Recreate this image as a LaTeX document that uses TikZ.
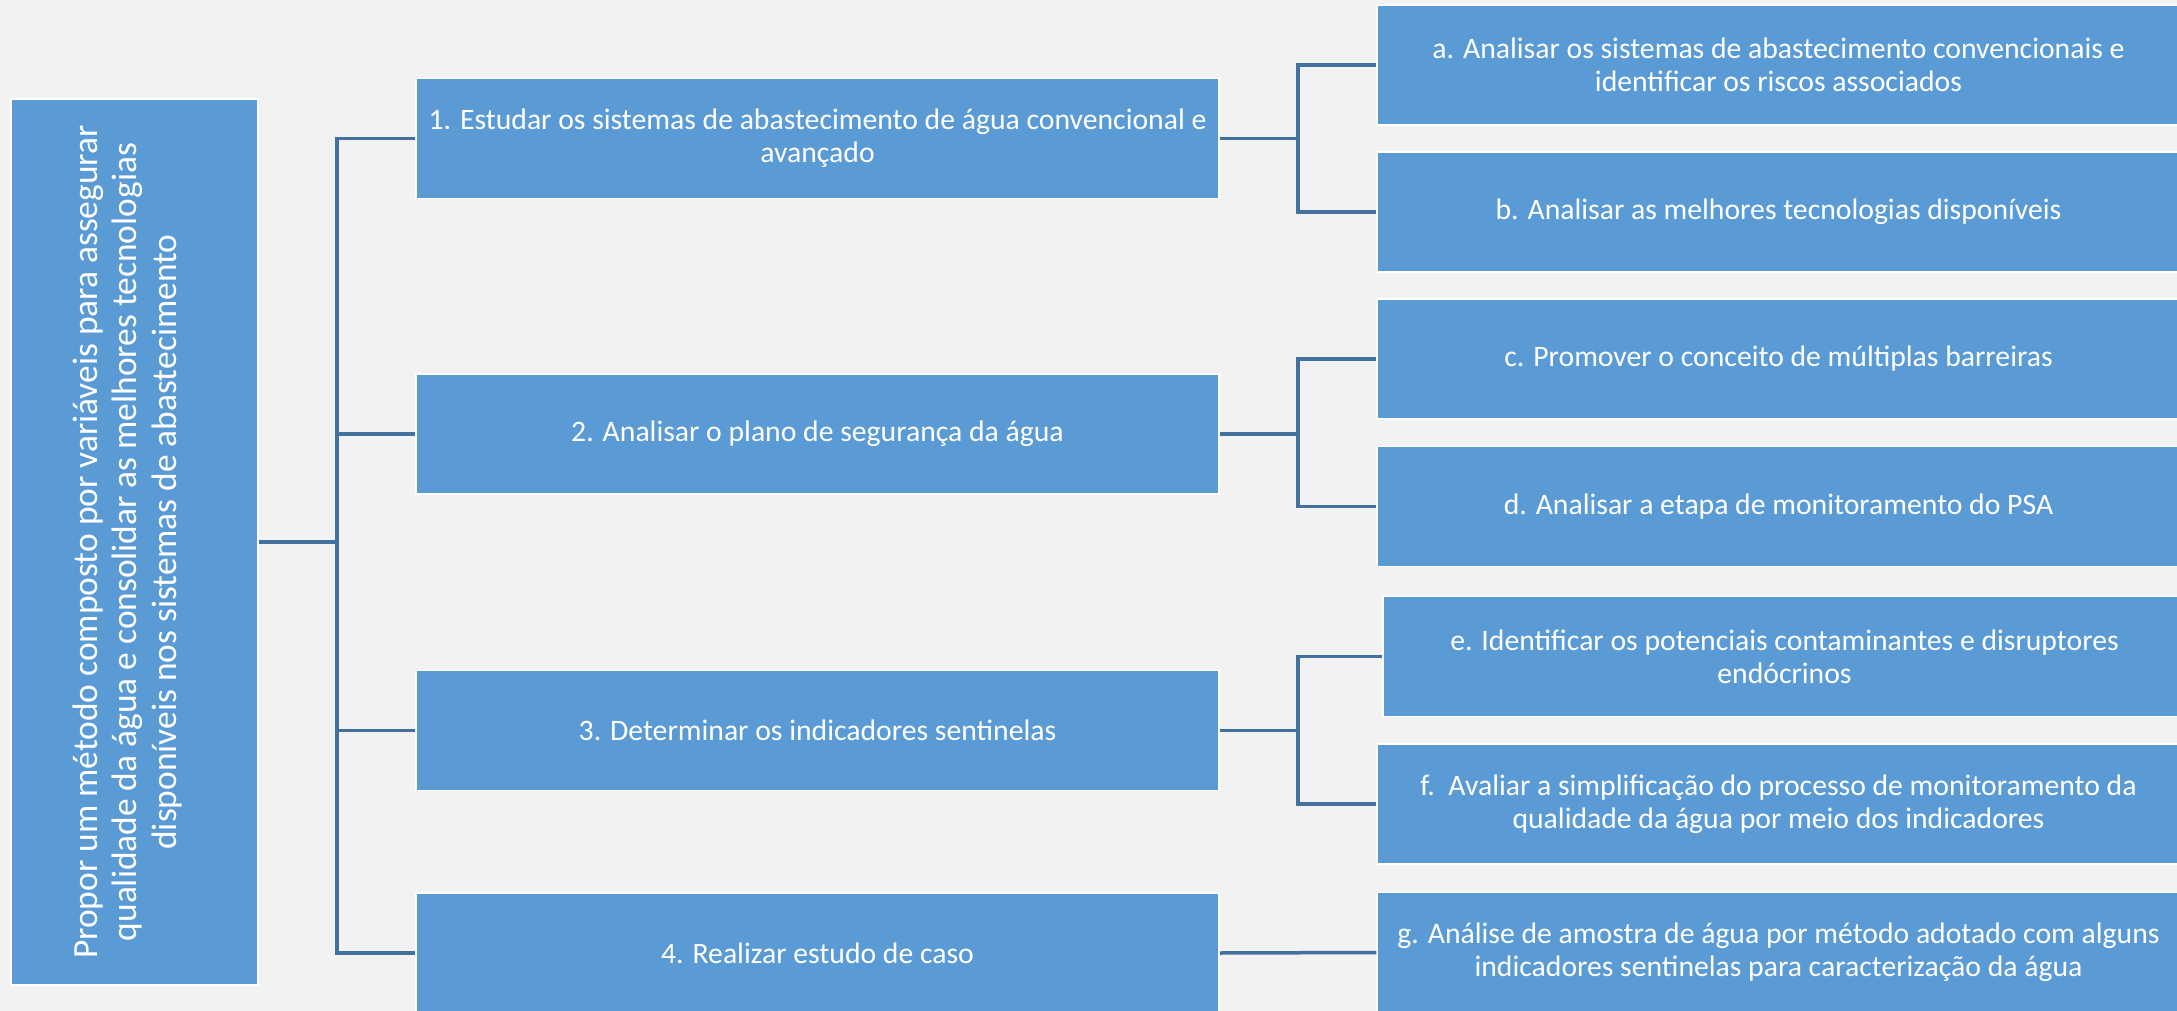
\documentclass[tikz,border=0pt]{standalone}
\usepackage{fontspec}
\setmainfont{Carlito}
\usepackage{tikz}

\definecolor{bggray}{HTML}{F2F2F2}
\definecolor{boxblue}{HTML}{5B9BD5}
\definecolor{linkblue}{HTML}{41719C}

\begin{document}
\begin{tikzpicture}[x=1pt,y=-1pt,
  box/.style={draw=white,line width=1.5pt,fill=boxblue,text=white,
    minimum width=803pt,minimum height=120pt,inner sep=0pt,align=center,
    font=\fontsize{29.7}{33}\selectfont},
  link/.style={draw=linkblue,line width=3.5pt}]

\useasboundingbox (0,0) rectangle (2177,1011);
\fill[bggray] (0,0) rectangle (2177,1011);

% goal
\node[box,rotate=90,minimum width=886pt,minimum height=247pt,
  font=\fontsize{35.4}{39.5}\selectfont] (goal) at (134.5,542)
  {\raisebox{0pt}[\height][\dimexpr\depth+11pt\relax]{\begin{tabular}{@{}c@{}}
   Propor um método composto por variáveis para assegurar\\
   qualidade da água e consolidar as melhores tecnologias\\
   disponíveis nos sistemas de abastecimento\end{tabular}}};

% steps
\node[box] (s1) at (817.5,138.5) {1. Estudar os sistemas de abastecimento de água convencional e\\avançado};
\node[box] (s2) at (817.5,434) {2. Analisar o plano de segurança da água};
\node[box] (s3) at (817.5,730.5) {3. Determinar os indicadores sentinelas};
\node[box] (s4) at (817.5,953) {4. Realizar estudo de caso};

% tasks
\node[box] (ta) at (1778.5,65) {a. Analisar os sistemas de abastecimento convencionais e\\identificar os riscos associados};
\node[box] (tb) at (1778.5,212) {b. Analisar as melhores tecnologias disponíveis};
\node[box] (tc) at (1778.5,359) {c. Promover o conceito de múltiplas barreiras};
\node[box] (td) at (1778.5,506.5) {d. Analisar a etapa de monitoramento do PSA};
\node[box] (te) at (1784.5,656.5) {e. Identificar os potenciais contaminantes e disruptores\\endócrinos};
\node[box] (tf) at (1778.5,804) {f.\ \ Avaliar a simplificação do processo de monitoramento da\\qualidade da água por meio dos indicadores};
\node[box] (tg) at (1778.5,952.5) {g. Análise de amostra de água por método adotado com alguns\\indicadores sentinelas para caracterização da água};

\coordinate (trunk) at (337,0);
\coordinate (fork) at (1298,0);

\draw[link] (goal.south) -- (goal.south -| trunk);
\draw[link] (s1.west) -- (s1.west -| trunk) -- (s4.west -| trunk) -- (s4.west);
\draw[link] (s2.west) -- (s2.west -| trunk);
\draw[link] (s3.west) -- (s3.west -| trunk);

\draw[link] (ta.west) -- (ta.west -| fork) -- (tb.west -| fork) -- (tb.west);
\draw[link] (s1.east) -- (s1.east -| fork);
\draw[link] (tc.west) -- (tc.west -| fork) -- (td.west -| fork) -- (td.west);
\draw[link] (s2.east) -- (s2.east -| fork);
\draw[link] (te.west) -- (te.west -| fork) -- (tf.west -| fork) -- (tf.west);
\draw[link] (s3.east) -- (s3.east -| fork);
\draw[link] (s4.east) -- (tg.west);
\end{tikzpicture}
\end{document}
